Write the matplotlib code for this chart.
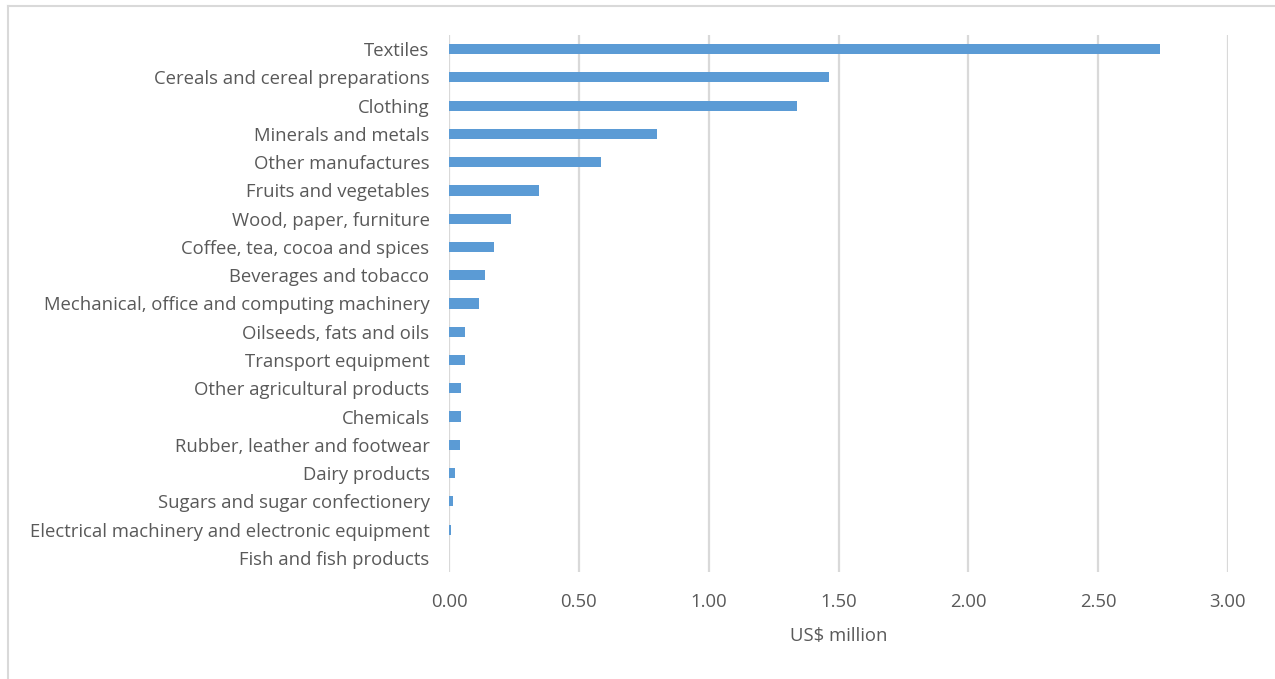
import matplotlib.pyplot as plt
from matplotlib.lines import Line2D

categories = ["Textiles", "Cereals and cereal preparations", "Clothing",
              "Minerals and metals", "Other manufactures", "Fruits and vegetables",
              "Wood, paper, furniture", "Coffee, tea, cocoa and spices",
              "Beverages and tobacco", "Mechanical, office and computing machinery",
              "Oilseeds, fats and oils", "Transport equipment",
              "Other agricultural products", "Chemicals",
              "Rubber, leather and footwear", "Dairy products",
              "Sugars and sugar confectionery",
              "Electrical machinery and electronic equipment",
              "Fish and fish products"]
values = [2.739, 1.464, 1.340, 0.800, 0.585, 0.346, 0.238, 0.174, 0.140, 0.116,
          0.062, 0.062, 0.048, 0.048, 0.041, 0.022, 0.017, 0.006, 0.001]
xticks = [0, 0.5, 1.0, 1.5, 2.0, 2.5, 3.0]

W, H = 1275, 679
fig = plt.figure(figsize=(W / 100, H / 100), dpi=100)
plt.rcParams['font.family'] = ['Open Sans', 'DejaVu Sans']
fs = 13.3

# plot area in pixels: x 449..1228, y 35..572
ax = fig.add_axes([449 / W, 1 - 572 / H, (1228 - 449) / W, (572 - 35) / H])

pos = list(range(len(categories)))
ax.barh(pos, values, height=0.36, color='#5b9bd5', zorder=3)
ax.set_ylim(len(categories) - 0.5, -0.5)
ax.set_xlim(0, 3.0)
ax.set_yticks(pos)
ax.set_yticklabels(categories, fontsize=fs, color='#595959')
ax.set_xticks(xticks)
ax.set_xticklabels(['%.2f' % v for v in xticks], fontsize=fs, color='#595959')
ax.tick_params(length=0, axis='y', pad=14)
ax.tick_params(length=0, axis='x', pad=15)
ax.grid(axis='x', color='#d9d9d9', linewidth=1.6, zorder=0)
for s in ax.spines.values():
    s.set_visible(False)
ax.set_xlabel('US$ million', fontsize=fs, color='#595959', labelpad=12)

# outer chart frame (partially cropped)
fig.add_artist(Line2D([8 / W, 8 / W], [0, 1 - 6 / H], color='#d9d9d9', linewidth=1.5,
                      transform=fig.transFigure))
fig.add_artist(Line2D([8 / W, 1], [1 - 6 / H, 1 - 6 / H], color='#d9d9d9', linewidth=1.5,
                      transform=fig.transFigure))

fig.savefig('out.png', dpi=100)
